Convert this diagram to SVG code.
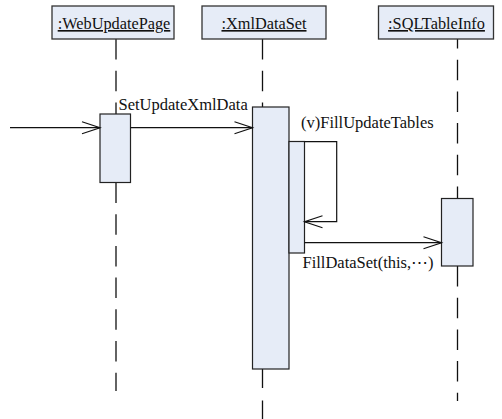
<svg xmlns="http://www.w3.org/2000/svg" width="502" height="419" viewBox="0 0 502 419">
  <style>
    .obj { fill: #e6ecf7; stroke: #333; stroke-width: 1.3; }
    .act { fill: #e6ecf7; stroke: #222; stroke-width: 1.2; }
    .name { font-family: "Liberation Serif", "Times New Roman", serif; font-size: 16.3px; fill: #111; text-anchor: middle; text-decoration: underline; }
    .lbl { font-family: "Liberation Serif", "Times New Roman", serif; font-size: 16.5px; fill: #111; }
    .life { stroke: #111; stroke-width: 1.3; fill: none; stroke-dasharray: 20.5 11.2; }
    .msg { stroke: #111; stroke-width: 1.2; fill: none; }
    .head { stroke: #111; stroke-width: 1.2; fill: none; }
  </style>

  <!-- lifelines -->
  <g id="lifelines">
    <line class="life" x1="116" y1="39" x2="116" y2="114"/>
    <line class="life" x1="116" y1="182.5" x2="116" y2="391"/>
    <line class="life" x1="262.5" y1="39" x2="262.5" y2="107"/>
    <line class="life" x1="262.5" y1="369" x2="262.5" y2="419" style="stroke-dasharray: 19 12.5"/>
    <line class="life" x1="457.5" y1="39" x2="457.5" y2="198" style="stroke-dashoffset: 11"/>
    <line class="life" x1="457.5" y1="266" x2="457.5" y2="401"/>
  </g>

  <!-- object heads -->
  <g id="WebUpdatePage">
    <rect class="obj" x="52" y="6" width="122" height="33"/>
    <text class="name" x="114" y="29">:WebUpdatePage</text>
  </g>
  <g id="XmlDataSet">
    <rect class="obj" x="202" y="6" width="124" height="33"/>
    <text class="name" x="264" y="29">:XmlDataSet</text>
  </g>
  <g id="SQLTableInfo">
    <rect class="obj" x="378.5" y="6" width="115" height="33"/>
    <text class="name" x="436.5" y="29">:SQLTableInfo</text>
  </g>

  <!-- activation bars -->
  <g id="activations">
    <rect class="act" x="100" y="114" width="30.5" height="68.5"/>
    <rect class="act" x="252.5" y="107" width="36.5" height="262"/>
    <rect class="act" x="289" y="141.5" width="15.5" height="111.5"/>
    <rect class="act" x="441.5" y="198.5" width="31.5" height="67.5"/>
  </g>

  <!-- messages -->
  <g id="connectors">
    <line class="msg" x1="10" y1="127.7" x2="100" y2="127.7"/>
    <polyline class="head" points="82,121.7 100,127.7 82,133.7"/>

    <line class="msg" x1="130.5" y1="127.7" x2="252.5" y2="127.7"/>
    <polyline class="head" points="234.5,121.7 252.5,127.7 234.5,133.7"/>

    <polyline class="msg" points="304.5,141.7 336.7,141.7 336.7,221.7 304.5,221.7"/>
    <polyline class="head" points="322.5,215.7 304.5,221.7 322.5,227.7"/>

    <line class="msg" x1="304.5" y1="242.7" x2="441.5" y2="242.7"/>
    <polyline class="head" points="423.5,236.7 441.5,242.7 423.5,248.7"/>
  </g>

  <!-- message labels -->
  <g id="labels">
    <text class="lbl" x="118.5" y="110">SetUpdateXmlData</text>
    <text class="lbl" x="301" y="128.3">(v)FillUpdateTables</text>
    <text class="lbl" x="302.5" y="268.3">FillDataSet(this,⋯)</text>
  </g>
</svg>
